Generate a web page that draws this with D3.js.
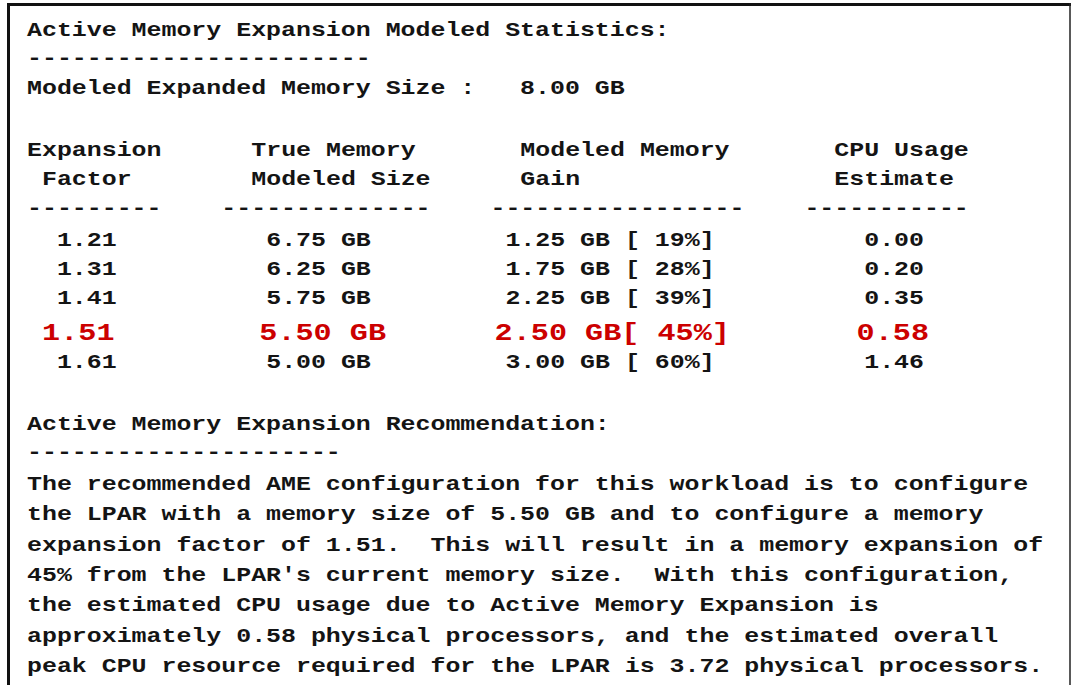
<!DOCTYPE html>
<html>
<head>
<meta charset="utf-8">
<script src="https://cdn.jsdelivr.net/npm/d3@7/dist/d3.min.js"></script>
<style>
  html, body { margin: 0; padding: 0; background: #ffffff; }
  svg { display: block; }
  text { font-family: "Liberation Mono", "DejaVu Sans Mono", monospace; font-weight: bold; white-space: pre; }
</style>
</head>
<body>
<svg id="chart" width="1071" height="685"></svg>
<script>
// ---------------- data ----------------
const titleText = "Active Memory Expansion Modeled Statistics:";
const expandedLabel = "Modeled Expanded Memory Size :";
const expandedSize = 8.00;
const headerRow1 = ["Expansion", "True Memory", "Modeled Memory", "CPU Usage"];
const headerRow2 = ["Factor", "Modeled Size", "Gain", "Estimate"];
const factors = [1.21, 1.31, 1.41, 1.51, 1.61];
const trueSizes = [6.75, 6.25, 5.75, 5.50, 5.00];
const gains = [1.25, 1.75, 2.25, 2.50, 3.00];
const gainPct = [19, 28, 39, 45, 60];
const cpuUsage = [0.00, 0.20, 0.35, 0.58, 1.46];
const recommendedIndex = 3;
const peakCpu = 3.72;
const recTitle = "Active Memory Expansion Recommendation:";

// ---------------- layout ----------------
const svg = d3.select("#chart");
const W = 1071, H = 685;
const cellW = 14.95;          // monospace advance
const fs = 20;                // black font size
const sx = cellW / (0.6 * fs); // horizontal stretch of the glyphs
const redCellW = 18.1;
const fsRed = redCellW / (0.6 * sx);
const ink = "#141414";
const red = "#cc0000";

const col = d3.scaleLinear().domain([0, 1]).range([27, 27 + cellW]);
const redCol = d3.scaleLinear().domain([0, 1]).range([24, 24 + redCellW]);
// text line index -> baseline
const line = d3.scaleLinear()
  .domain([0, 1, 2, 4, 6, 7, 9, 10, 11, 13, 14, 15, 21])
  .range([36, 64, 94, 156, 214, 246, 304, 340, 368, 430, 458, 490, 672]);

// frame
svg.append("path")
  .attr("d", `M8.5,${H} L8.5,4.5 L${W},4.5`)
  .attr("fill", "none").attr("stroke", "#111").attr("stroke-width", 3);
svg.append("line")
  .attr("x1", W - 1).attr("x2", W - 1).attr("y1", 3).attr("y2", H)
  .attr("stroke", "#222").attr("stroke-width", 1.5);

const g = svg.append("g");
function put(str, c, l, opts = {}) {
  const x = opts.red ? redCol(c) : col(c);
  g.append("text")
    .attr("transform", `translate(${x},${line(l)}) scale(${sx},1)`)
    .attr("font-size", opts.red ? fsRed : fs)
    .attr("fill", opts.red ? red : ink)
    .text(str);
}
const dashes = n => "-".repeat(n);
const f2 = d3.format(".2f");

// header block
put(titleText, 0, 0);
put(dashes(23), 0, 1);
put(`${expandedLabel}   ${f2(expandedSize)} GB`, 0, 2);

// table headers
const headerCols = [0, 15, 33, 54];
const header2Cols = [1, 15, 33, 54];
headerRow1.forEach((h, i) => put(h, headerCols[i], 4));
headerRow2.forEach((h, i) => put(h, header2Cols[i], 5));
const dashSpec = [[0, 9], [13, 14], [31, 17], [52, 11]];
dashSpec.forEach(([c, n]) => put(dashes(n), c, 6));

// table rows
factors.forEach((f, i) => {
  const l = 7 + i;
  if (i === recommendedIndex) {
    put(f2(f), 1, l, { red: true });
    put(`${f2(trueSizes[i])} GB`, 13, l, { red: true });
    put(`${f2(gains[i])} GB[ ${gainPct[i]}%]`, 26, l, { red: true });
    put(f2(cpuUsage[i]), 46, l, { red: true });
  } else {
    put(f2(f), 2, l);
    put(`${f2(trueSizes[i])} GB`, 16, l);
    put(`${f2(gains[i])} GB [ ${gainPct[i]}%]`, 32, l);
    put(f2(cpuUsage[i]), 56, l);
  }
});

// recommendation
const r = recommendedIndex;
put(recTitle, 0, 13);
put(dashes(21), 0, 14);
const para = [
  "The recommended AME configuration for this workload is to configure",
  `the LPAR with a memory size of ${f2(trueSizes[r])} GB and to configure a memory`,
  `expansion factor of ${f2(factors[r])}.  This will result in a memory expansion of`,
  `${gainPct[r]}% from the LPAR's current memory size.  With this configuration,`,
  "the estimated CPU usage due to Active Memory Expansion is",
  `approximately ${f2(cpuUsage[r])} physical processors, and the estimated overall`,
  `peak CPU resource required for the LPAR is ${f2(peakCpu)} physical processors.`
];
para.forEach((s, i) => put(s, 0, 15 + i));
</script>
</body>
</html>
